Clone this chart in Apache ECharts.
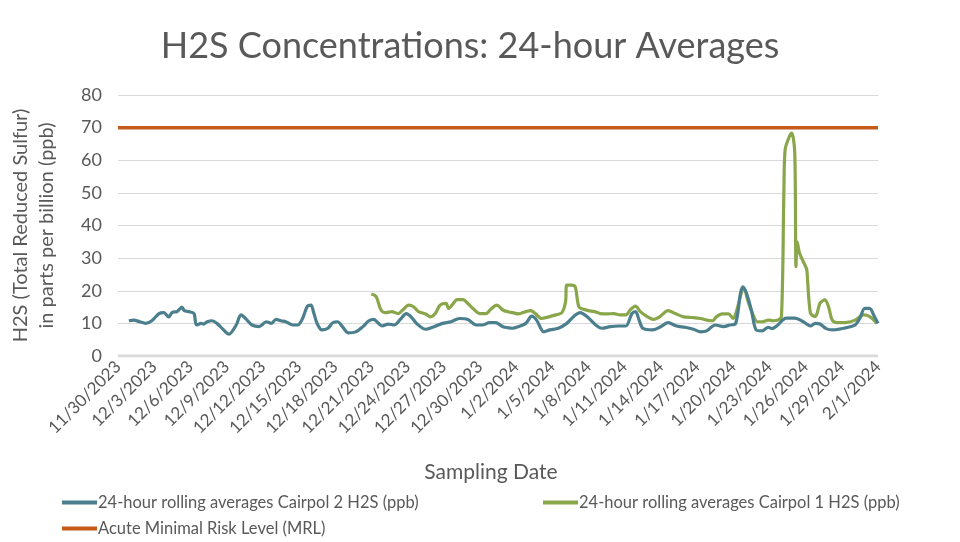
<!DOCTYPE html>
<html><head><meta charset="utf-8">
<script src="https://cdn.jsdelivr.net/npm/echarts@6/dist/echarts.min.js"></script>
<style>html,body{margin:0;padding:0;background:#fff}#c{width:960px;height:542px}</style>
</head><body><div id="c"></div>
<script>
// Tick labels (every 3 days starting 11/30/2023; axis value = days since 11/30/2023)
const xLabels = ['11/30/2023','12/3/2023','12/6/2023','12/9/2023','12/12/2023','12/15/2023','12/18/2023','12/21/2023','12/24/2023','12/27/2023','12/30/2023','1/2/2024','1/5/2024','1/8/2024','1/11/2024','1/14/2024','1/17/2024','1/20/2024','1/23/2024','1/26/2024','1/29/2024','2/1/2024'];

// Cairpol 2 (days since 11/30/2023, ppb)
const c2Days = [0.9,1.3,1.8,2.3,2.8,3.4,3.8,4.2,4.5,4.9,5.3,5.5,5.9,6.3,6.5,6.9,7.1,7.4,7.8,8.2,8.7,9.2,9.8,10.2,10.7,11.1,11.7,12.3,12.7,13.1,13.5,13.9,14.5,14.9,15.3,15.7,16.0,16.2,16.5,16.9,17.4,17.8,18.2,18.6,19.1,19.7,20.3,20.8,21.2,21.6,21.9,22.4,22.9,23.4,23.9,24.3,24.8,25.5,26.2,26.9,27.6,28.3,29.0,29.7,30.2,30.8,31.3,31.9,32.4,32.7,33.2,33.8,34.3,34.7,35.3,35.8,36.5,37.2,37.8,38.3,38.9,39.6,40.1,40.8,41.5,42.1,42.6,42.9,43.2,43.5,44.3,44.9,45.6,46.3,47.0,47.7,48.3,48.8,49.5,50.2,50.7,51.2,51.6,51.8,52.1,52.5,52.9,53.4,53.9,54.2,54.6,55.4,56.1,56.8,57.4,57.8,58.2,58.7,59.3,60.4,61.1,61.5,61.9,62.3,62.7,63.0];
const c2Vals = [10.8,11.0,10.5,10.0,10.8,13.0,13.3,12.0,13.4,13.6,15.0,13.9,13.6,13.0,9.5,10.0,9.8,10.5,10.8,10.0,8.2,6.7,9.5,12.6,11.0,9.5,9.0,10.5,10.0,11.2,10.8,10.5,9.5,9.5,11.5,15.3,15.6,13.6,10.0,8.0,8.5,10.2,10.5,9.0,7.1,7.4,9.0,10.8,11.2,10.0,9.2,9.8,9.5,11.2,13.0,12.0,9.8,8.2,9.0,10.0,10.5,11.5,11.2,9.5,9.5,10.2,10.2,9.0,8.6,8.5,9.0,10.0,12.2,11.0,7.4,8.0,8.5,10.0,12.2,13.3,12.0,9.5,8.5,9.0,9.2,9.2,13.0,13.6,11.0,8.5,8.0,8.8,10.2,9.2,8.8,8.2,7.4,7.7,9.5,9.0,9.5,10.0,19.2,21.2,19.2,14.1,8.0,7.7,8.8,8.4,9.2,11.6,11.6,10.5,9.2,10.0,9.8,8.4,8.0,8.7,9.5,11.6,14.6,14.6,12.1,10.0];

// Cairpol 1 (days since 11/30/2023, ppb)
const c1Days = [21.0,21.4,21.8,22.2,22.7,23.2,23.6,24.1,24.5,24.9,25.5,25.9,26.3,26.7,27.2,27.4,27.8,28.1,28.6,29.0,29.5,30.0,30.5,30.9,31.4,31.9,32.4,32.7,33.2,33.8,34.2,34.6,35.1,35.7,36.3,36.8,37.1,37.2,37.6,37.9,38.2,38.6,39.0,39.5,40.0,40.5,41.1,41.6,42.1,42.5,42.9,43.3,43.9,44.4,44.9,45.6,46.2,46.9,47.6,48.3,48.8,49.3,49.6,50.1,50.6,51.0,51.3,51.7,51.9,52.2,52.6,53.0,53.4,53.9,54.3,54.7,55.0,55.2,55.3,55.6,55.85,56.1,56.2,56.3,56.5,57.0,57.1,57.4,57.8,58.2,58.6,58.9,59.2,59.6,60.4,61.1,61.8,62.3,62.9];
const c1Vals = [19.0,18.2,14.1,13.3,13.6,13.0,14.1,15.6,15.1,13.6,12.9,12.0,13.0,15.6,16.1,14.6,16.1,17.3,17.3,16.1,14.3,13.0,13.0,14.3,15.6,14.1,13.5,13.3,12.9,13.6,13.9,13.0,11.5,12.0,12.6,13.3,16.6,21.7,21.7,21.2,15.1,14.3,13.9,13.6,13.0,12.9,13.0,12.6,12.6,14.3,15.3,13.6,12.0,11.2,12.0,13.9,13.0,12.0,11.8,11.5,11.0,10.8,12.0,12.9,12.9,11.5,14.1,19.7,20.7,17.1,13.0,10.5,10.5,11.0,10.8,11.0,12.1,50.9,63.2,66.8,68.3,62.3,27.4,35.0,31.5,27.4,26.4,13.1,12.1,16.2,17.2,15.1,11.0,10.2,10.3,11.0,12.6,12.1,10.0];

// Acute MRL
const mrlDays = [0, 63];
const mrlVals = [70, 70];

const names = ['24-hour rolling averages Cairpol 2 H2S (ppb)','24-hour rolling averages Cairpol 1 H2S (ppb)','Acute Minimal Risk Level (MRL)'];
const zip = (a,b) => a.map((d,i)=>[d,b[i]]);
const FONT = 'Lato';
const TXT = '#595959';
const legendText = {fontFamily:FONT, fontSize:16.5, color:TXT, padding:[0,0,0,-4]};
const mkLegend = (name, left, top) => ({data:[name], left:left, top:top, itemWidth:35, itemHeight:4, icon:'rect', padding:0, textStyle:legendText});

const chart = echarts.init(document.getElementById('c'), null, {renderer:'canvas'});
chart.setOption({
  backgroundColor:'#ffffff',
  animation:false,
  textStyle:{fontFamily:FONT, color:TXT},
  title:{text:'H2S Concentrations: 24-hour Averages', left:465, textAlign:'center', top:23,
    textStyle:{fontFamily:FONT, fontSize:36, fontWeight:'normal', color:TXT}},
  grid:{left:117, right:82, top:95, bottom:186, containLabel:false},
  legend:[
    mkLegend(names[0], 62, 494),
    mkLegend(names[1], 543, 494),
    mkLegend(names[2], 62, 520)
  ],
  xAxis:{type:'value', min:0, max:63, interval:3,
    name:'Sampling Date', nameLocation:'middle', nameGap:106,
    nameTextStyle:{fontFamily:FONT, fontSize:21, color:TXT, padding:[0,14,0,0]},
    axisLine:{show:false}, axisTick:{show:false}, splitLine:{show:false},
    axisLabel:{rotate:45, fontFamily:FONT, fontSize:17, color:TXT, margin:8,
      formatter:v=>xLabels[Math.round(v/3)], showMinLabel:true, showMaxLabel:true}},
  yAxis:{type:'value', min:0, max:80, interval:10,
    name:'H2S (Total Reduced Sulfur)\nin parts per billion (ppb)', nameLocation:'middle', nameGap:58, nameRotate:90,
    nameTextStyle:{fontFamily:FONT, fontSize:20, color:TXT, lineHeight:26},
    axisLine:{show:false}, axisTick:{show:false},
    splitLine:{lineStyle:{color:'#d9d9d9', width:1}},
    axisLabel:{fontFamily:FONT, fontSize:18, color:TXT, margin:16}},
  series:[
    {name:names[0], type:'line', data:zip(c2Days,c2Vals), symbol:'none', smooth:0.3,
      lineStyle:{color:'#4b7f8d', width:3.2}, itemStyle:{color:'#4b7f8d'}, z:3},
    {name:names[1], type:'line', data:zip(c1Days,c1Vals), symbol:'none', smooth:0.3,
      lineStyle:{color:'#8aa64b', width:3.2}, itemStyle:{color:'#8aa64b'}, z:2},
    {name:names[2], type:'line', data:zip(mrlDays,mrlVals), symbol:'none',
      lineStyle:{color:'#c55a1b', width:3.5}, itemStyle:{color:'#c55a1b'}, z:1},
    {type:'line', data:[[0,0],[63,0]], symbol:'none', silent:true, legendHoverLink:false,
      lineStyle:{color:'#d9d9d9', width:3}, z:0, tooltip:{show:false}}
  ]
});
</script></body></html>
